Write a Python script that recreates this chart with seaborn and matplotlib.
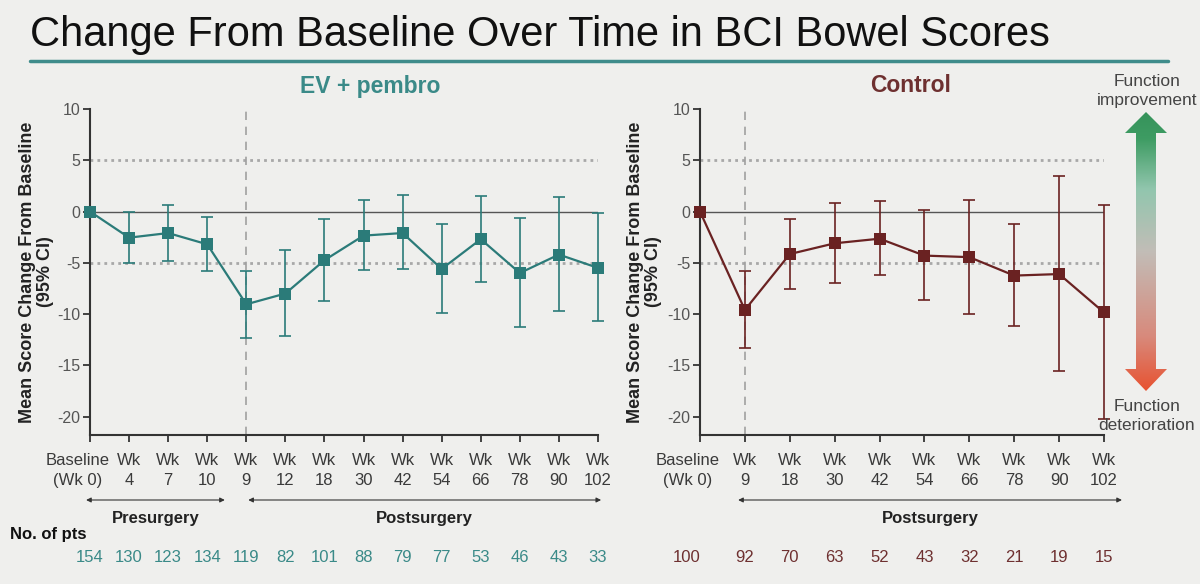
import numpy as np
import pandas as pd
import seaborn as sns
import matplotlib.pyplot as plt
from matplotlib import font_manager
from matplotlib.lines import Line2D
from matplotlib.patches import Polygon
from matplotlib.colors import LinearSegmentedColormap
from matplotlib.transforms import blended_transform_factory, ScaledTranslation

# EV + pembro arm
ev_labels = ["Baseline\n(Wk 0)", "Wk\n4", "Wk\n7", "Wk\n10", "Wk\n9", "Wk\n12", "Wk\n18",
             "Wk\n30", "Wk\n42", "Wk\n54", "Wk\n66", "Wk\n78", "Wk\n90", "Wk\n102"]
ev_mean = [0, -2.55, -2.1, -3.2, -9.05, -8.0, -4.75, -2.35, -2.1, -5.6, -2.7, -6.0, -4.2, -5.5]
ev_low = [np.nan, -5.05, -4.8, -5.8, -12.3, -12.1, -8.7, -5.7, -5.6, -9.9, -6.85, -11.3, -9.7, -10.7]
ev_high = [np.nan, 0.0, 0.6, -0.5, -5.8, -3.8, -0.75, 1.1, 1.6, -1.2, 1.5, -0.65, 1.4, -0.1]
ev_n = [154, 130, 123, 134, 119, 82, 101, 88, 79, 77, 53, 46, 43, 33]

# Control arm
ct_labels = ["Baseline\n(Wk 0)", "Wk\n9", "Wk\n18", "Wk\n30", "Wk\n42", "Wk\n54", "Wk\n66",
             "Wk\n78", "Wk\n90", "Wk\n102"]
ct_mean = [0, -9.6, -4.15, -3.1, -2.65, -4.3, -4.45, -6.25, -6.1, -9.85]
ct_low = [np.nan, -13.35, -7.6, -7.0, -6.2, -8.6, -10.0, -11.2, -15.6, -20.2]
ct_high = [np.nan, -5.8, -0.7, 0.8, 1.0, 0.1, 1.15, -1.25, 3.45, 0.6]
ct_n = [100, 92, 70, 63, 52, 43, 32, 21, 19, 15]

BG = "#efefed"
TEAL = "#2b7b79"
TEAL_TXT = "#3a8a88"
BROWN = "#6a2222"
BROWN_TXT = "#6e3030"

sns.set_theme(style="white", rc={"figure.facecolor": BG, "axes.facecolor": BG})
names = {f.name for f in font_manager.fontManager.ttflist}
plt.rcParams["font.family"] = ["Liberation Sans", "DejaVu Sans"]
title_font = "Liberation Sans Narrow" if "Liberation Sans Narrow" in names else "Liberation Sans"

fig = plt.figure(figsize=(12, 5.84), dpi=100)
H = 584.0


def px_axes(x0, x1, ytop, ybot):
    return fig.add_axes([x0 / 1200, 1 - ybot / H, (x1 - x0) / 1200, (ybot - ytop) / H])


def draw_panel(ax, labels, mean, low, high, color, surg_idx):
    df = pd.DataFrame({"pos": np.arange(len(labels)), "mean": mean, "low": low, "high": high})
    n = len(labels) - 1
    ax.axhline(5, color="#a8a8a8", ls=(0, (1, 1.5)), lw=2, zorder=1)
    ax.axhline(-5, color="#a8a8a8", ls=(0, (1, 1.5)), lw=2, zorder=1)
    ax.axhline(0, color="#555555", lw=1, zorder=1)
    ax.axvline(surg_idx, color="#a0a0a0", ls=(0, (5, 4)), lw=1.2, zorder=1)
    sub = df.dropna()
    ax.errorbar(sub["pos"], sub["mean"], yerr=[sub["mean"] - sub["low"], sub["high"] - sub["mean"]],
                fmt="none", ecolor=color, elinewidth=1.2, capsize=4, capthick=1.2, zorder=2,
                clip_on=False)
    sns.lineplot(data=df, x="pos", y="mean", ax=ax, color=color, lw=1.6, marker="s",
                 markersize=8, markeredgewidth=0, errorbar=None, zorder=3, clip_on=False)
    ax.set_xlim(0, n)
    ax.set_ylim(-21.8, 10)
    ax.set_yticks([10, 5, 0, -5, -10, -15, -20])
    ax.set_yticklabels(["10", "5", "0", "-5", "-10", "-15", "-20"], color="#555555", fontsize=11.5)
    ax.set_xticks(df["pos"])
    ax.set_xticklabels(labels, color="#3a3a3a", fontsize=12, linespacing=1.45)
    ax.tick_params(axis="both", direction="out", length=5, width=1.3, color="#333333", pad=2,
                   bottom=True, left=True)
    ax.tick_params(axis="x", pad=8)
    for s in ["top", "right"]:
        ax.spines[s].set_visible(False)
    for s in ["left", "bottom"]:
        ax.spines[s].set_color("#333333")
        ax.spines[s].set_linewidth(1.5)
    ax.set_xlabel("")
    ax.set_ylabel("Mean Score Change From Baseline\n(95% CI)", fontsize=13,
                  fontweight="bold", color="#222222", linespacing=1.1)
    # shift the baseline label a bit left, like the original
    lab = ax.get_xticklabels()[0]
    lab.set_transform(lab.get_transform() + ScaledTranslation(-12 / 100, 0, fig.dpi_scale_trans))
    return ax


ax1 = px_axes(90, 598, 109, 435)
draw_panel(ax1, ev_labels, ev_mean, ev_low, ev_high, TEAL, 4)
ax1.yaxis.set_label_coords(-0.071, 0.5)

ax2 = px_axes(700, 1104, 109, 435)
draw_panel(ax2, ct_labels, ct_mean, ct_low, ct_high, BROWN, 1)
ax2.yaxis.set_label_coords(-0.094, 0.5)

# title and rule
fig.text(30 / 1200, 1 - 35 / H, "Change From Baseline Over Time in BCI Bowel Scores",
         fontsize=30, family=title_font, color="#111111", va="center", ha="left")
fig.add_artist(Line2D([30 / 1200, 1168 / 1200], [1 - 61 / H, 1 - 61 / H],
                      transform=fig.transFigure, color="#3f8c8b", lw=2.5))
fig.text(370 / 1200, 1 - 86 / H, "EV + pembro", fontsize=16.5, fontweight="bold",
         color=TEAL_TXT, ha="center", va="center")
fig.text(911 / 1200, 1 - 86 / H, "Control", fontsize=16.5, fontweight="bold",
         color=BROWN_TXT, ha="center", va="center")

# surgery arrows and patient counts
def span(ax, x0, x1, text):
    tr = blended_transform_factory(ax.transData, fig.transFigure)
    ax.annotate("", xy=(x0, 1 - 500 / H), xytext=(x1, 1 - 500 / H), xycoords=tr, textcoords=tr,
                arrowprops=dict(arrowstyle="<|-|>", color="#333333", lw=0.8, mutation_scale=7,
                                shrinkA=0, shrinkB=0), annotation_clip=False)
    ax.text((x0 + x1) / 2, 1 - 518 / H, text, transform=tr, ha="center", va="center",
            fontsize=12, fontweight="bold", color="#222222")


span(ax1, -0.1, 3.45, "Presurgery")
span(ax1, 4.05, 13.08, "Postsurgery")
span(ax2, 0.85, 9.4, "Postsurgery")

fig.text(10 / 1200, 1 - 534 / H, "No. of pts", fontsize=12, fontweight="bold",
         color="#111111", ha="left", va="center")
tr1 = blended_transform_factory(ax1.transData, fig.transFigure)
for i, v in enumerate(ev_n):
    ax1.text(i, 1 - 558 / H, str(v), transform=tr1, ha="center", va="center",
             fontsize=12, color=TEAL_TXT)
tr2 = blended_transform_factory(ax2.transData, fig.transFigure)
for i, v in enumerate(ct_n):
    ax2.text(i - (0.3 if i == 0 else 0), 1 - 557 / H, str(v), transform=tr2, ha="center",
             va="center", fontsize=12, color=BROWN_TXT)

# gradient double arrow
axg = px_axes(1120, 1172, 110, 393)
axg.set_axis_off()
axg.set_xlim(1120, 1172)
axg.set_ylim(393, 110)
cmap = LinearSegmentedColormap.from_list(
    "fn", [(0, "#e8502e"), (0.2, "#d88a7c"), (0.5, "#c2bdb7"), (0.72, "#92c6ae"),
           (0.9, "#3e9c63"), (1, "#35925a")])
grad = np.linspace(0, 1, 256).reshape(-1, 1)
im = axg.imshow(grad, cmap=cmap, extent=[1120, 1172, 393, 110], aspect="auto", origin="lower")
cx = 1146
arrow = Polygon([(cx, 112), (cx + 21, 133), (cx + 10, 133), (cx + 10, 369), (cx + 21, 369),
                 (cx, 391), (cx - 21, 369), (cx - 10, 369), (cx - 10, 133), (cx - 21, 133)],
                closed=True, transform=axg.transData, facecolor="none", edgecolor="none")
axg.add_patch(arrow)
im.set_clip_path(arrow)
fig.text(1147 / 1200, 1 - 91 / H, "Function\nimprovement", fontsize=12.5, color="#444444",
         ha="center", va="center", linespacing=1.35)
fig.text(1147 / 1200, 1 - 416 / H, "Function\ndeterioration", fontsize=12.5, color="#444444",
         ha="center", va="center", linespacing=1.35)

fig.savefig("out.png", dpi=100, facecolor=BG)
